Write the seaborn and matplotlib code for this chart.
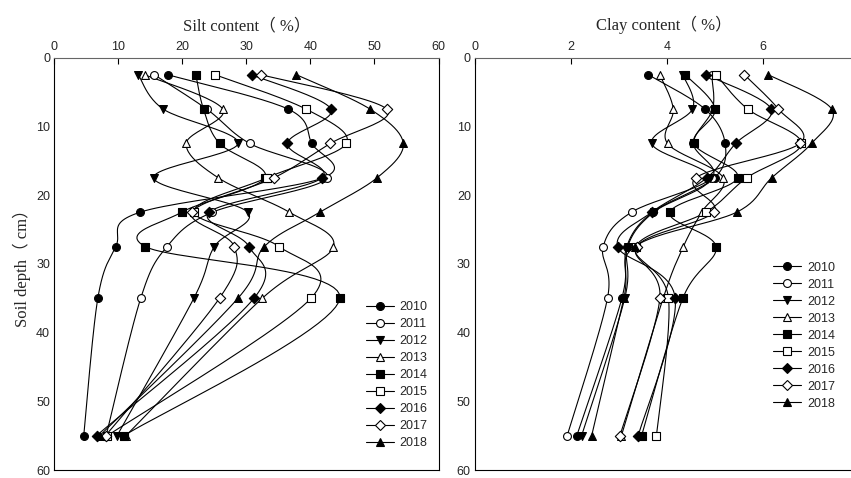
import numpy as np
import matplotlib
matplotlib.use('Agg')
import matplotlib.pyplot as plt
import seaborn as sns
from matplotlib.lines import Line2D

# soil depth of each sampling layer (cm)
depth = [2.5, 7.5, 12.5, 17.5, 22.5, 27.5, 35, 55]
years = ['2010', '2011', '2012', '2013', '2014', '2015', '2016', '2017', '2018']

# silt content (%)
silt_2010 = [17.7, 36.5, 40.2, 42.0, 13.4, 9.6, 6.8, 4.6]
silt_2011 = [15.6, 23.8, 30.5, 42.6, 24.7, 17.6, 13.5, 8.1]
silt_2012 = [13.1, 17.0, 28.7, 15.5, 30.2, 25.0, 21.8, 9.8]
silt_2013 = [14.1, 26.3, 20.6, 25.6, 36.7, 43.6, 32.5, 11.2]
silt_2014 = [22.1, 23.3, 25.8, 32.9, 19.9, 14.2, 44.6, 10.9]
silt_2015 = [25.1, 39.3, 45.6, 33.2, 21.8, 35.1, 40.1, 8.3]
silt_2016 = [30.8, 43.2, 36.4, 41.8, 24.2, 30.4, 31.2, 6.6]
silt_2017 = [32.3, 51.9, 43.1, 34.3, 21.5, 28.1, 25.8, 8.0]
silt_2018 = [37.8, 49.3, 54.5, 50.4, 41.5, 32.8, 28.7, 7.1]

# clay content (%)
clay_2010 = [3.61, 4.79, 5.21, 4.99, 3.70, 3.16, 3.06, 2.12]
clay_2011 = [4.93, 4.95, 4.55, 4.93, 3.26, 2.67, 2.76, 1.92]
clay_2012 = [4.33, 4.53, 3.68, 4.90, 3.72, 3.18, 3.12, 2.22]
clay_2013 = [3.85, 4.13, 4.01, 5.17, 4.72, 4.34, 3.92, 3.05]
clay_2014 = [4.38, 5.00, 4.56, 5.47, 4.06, 5.02, 4.33, 3.47]
clay_2015 = [5.02, 5.68, 6.80, 5.66, 4.81, 3.35, 4.03, 3.78]
clay_2016 = [4.81, 6.17, 5.43, 4.83, 3.68, 2.97, 4.17, 3.40]
clay_2017 = [5.61, 6.32, 6.77, 4.60, 4.97, 3.37, 3.85, 3.02]
clay_2018 = [6.11, 7.43, 7.01, 6.18, 5.45, 3.33, 3.10, 2.43]

silt = [silt_2010, silt_2011, silt_2012, silt_2013, silt_2014,
        silt_2015, silt_2016, silt_2017, silt_2018]
clay = [clay_2010, clay_2011, clay_2012, clay_2013, clay_2014,
        clay_2015, clay_2016, clay_2017, clay_2018]

# marker style per year: (marker, filled)
styles = [('o', True), ('o', False), ('v', True), ('^', False), ('s', True),
          ('s', False), ('D', True), ('D', False), ('^', True)]


def smooth(xs, ys, sx, sy, n=25):
    """Bezier smoothing through points, computed in screen space (like Excel smoothed lines)"""
    P = np.column_stack([np.asarray(xs) * sx, np.asarray(ys) * sy])
    segs = []
    for i in range(len(P) - 1):
        p0 = P[i - 1] if i > 0 else P[i]
        p1, p2 = P[i], P[i + 1]
        p3 = P[i + 2] if i + 2 < len(P) else P[i + 1]
        c1 = p1 + (p2 - p0) / 6
        c2 = p2 - (p3 - p1) / 6
        t = np.linspace(0, 1, n)[:, None]
        seg = (1 - t) ** 3 * p1 + 3 * (1 - t) ** 2 * t * c1 + 3 * (1 - t) * t ** 2 * c2 + t ** 3 * p2
        segs.append(seg if i == 0 else seg[1:])
    out = np.vstack(segs)
    return out[:, 0] / sx, out[:, 1] / sy


sns.set_theme(style='white')
plt.rcParams['font.family'] = ['Liberation Sans', 'DejaVu Sans']
plt.rcParams['xtick.direction'] = 'in'
plt.rcParams['ytick.direction'] = 'in'

serif = ['Liberation Serif', 'Noto Sans CJK SC']

fig = plt.figure(figsize=(8.51, 4.78), dpi=100)
ax1 = fig.add_axes([0.0638, 0.0167, 0.4515, 0.863])
ax2 = fig.add_axes([0.5582, 0.0167, 0.4428, 0.863])

panels = [
    (ax1, silt, (0, 60), 6.4, 'Silt content（ %）', np.arange(0, 61, 10)),
    (ax2, clay, (0, 7.85), 48.0, 'Clay content（ %）', np.arange(0, 7, 2)),
]

for ax, data, xlim, sx, title, xticks in panels:
    for vals, (m, filled) in zip(data, styles):
        cx, cy = smooth(vals, depth, sx, 6.87)
        sns.lineplot(x=cx, y=cy, sort=False, estimator=None, color='black',
                     linewidth=0.8, ax=ax, zorder=2)
        size = 28 if m == 'D' else 32
        sns.scatterplot(x=vals, y=depth, marker=m, s=size,
                        color='black' if filled else 'white',
                        edgecolor='black', linewidth=0.8, ax=ax, zorder=3)
    ax.set_xlim(*xlim)
    ax.set_ylim(60, 0)
    ax.set_xticks(xticks)
    ax.set_yticks(np.arange(0, 61, 10))
    ax.xaxis.tick_top()
    ax.xaxis.set_label_position('top')
    ax.tick_params(axis='both', labelsize=9, length=4, width=0.8, color='black', pad=3)
    ax.set_xlabel(title, family=serif, fontsize=12, labelpad=8)
    for s in ax.spines.values():
        s.set_color('black')
        s.set_linewidth(0.8)
    ax.spines['top'].set_color('#666666')

ax1.set_ylabel('Soil depth（ cm）', family=serif, fontsize=12, labelpad=4)
ax2.set_ylabel('')
ax2.spines['right'].set_visible(False)

handles = []
for yr, (m, filled) in zip(years, styles):
    handles.append(Line2D([0], [0], color='black', lw=0.8, marker=m,
                          markersize=5.2 if m == 'D' else 5.7,
                          markerfacecolor='black' if filled else 'white',
                          markeredgecolor='black', markeredgewidth=0.8, label=yr))

leg_kw = dict(frameon=False, fontsize=9, handlelength=2.2, handletextpad=0.5,
              labelspacing=0.4, borderpad=0, loc='upper left')
ax1.legend(handles=handles, bbox_to_anchor=(0.795, 0.425), **leg_kw)
ax2.legend(handles=handles, bbox_to_anchor=(0.775, 0.52), **leg_kw)

fig.savefig('out.png', dpi=100)
